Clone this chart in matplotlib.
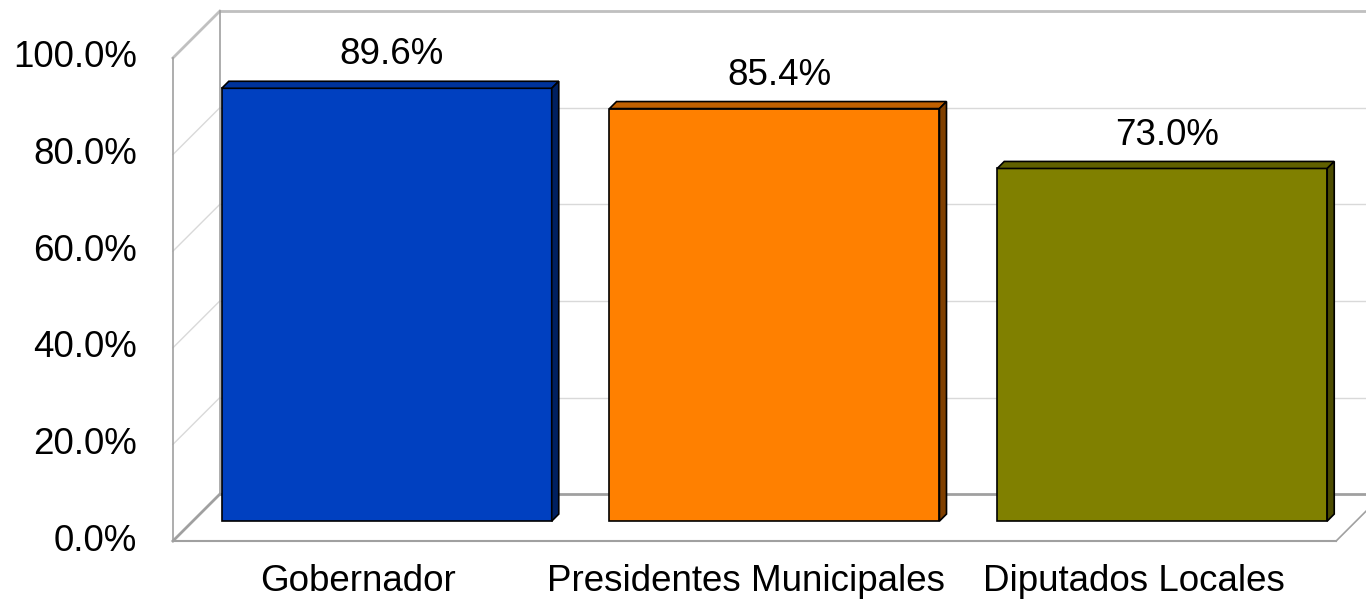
import numpy as np
import matplotlib.pyplot as plt
from matplotlib.patches import Polygon

plt.rcParams['font.family'] = ['Liberation Sans', 'DejaVu Sans']

categories = ['Gobernador', 'Presidentes Municipales', 'Diputados Locales']
values = [89.6, 85.4, 73.0]
tick_vals = [0, 20, 40, 60, 80, 100]
front_colors = ['#0040C0', '#FF8000', '#808000']
top_colors = ['#003399', '#C06000', '#606000']
side_colors = ['#002060', '#804000', '#4C4C00']

# oblique projection: full depth shift in data units
dX, dY = 0.121, 9.7
f1, f2 = 0.425, 0.575   # bar front / back depth fractions
w = 0.851

fig = plt.figure(figsize=(13.66, 6.01), dpi=100)
ax = fig.add_axes([0, 0, 1, 1])
ax.set_xlim(-0.946, 2.577)
ax.set_ylim(-12.42, 112.0)
ax.axis('off')

n = len(categories)
x0, x1 = -0.5, n - 0.5

# back wall gridlines and left wall gridlines
for v in tick_vals:
    col = '#d9d9d9' if v != 0 else '#a0a0a0'
    lw = 1.0 if v != 0 else 2.0
    ax.plot([x0 + dX, x1 + dX + 0.2], [v + dY, v + dY], color=col, lw=lw, zorder=1)
    ax.plot([x0, x0 + dX], [v, v + dY], color=col, lw=lw, zorder=1)
# top frame
ax.plot([x0 + dX, x1 + dX + 0.2], [100 + dY, 100 + dY], color='#c0c0c0', lw=2, zorder=1)
ax.plot([x0, x0 + dX], [100, 100 + dY], color='#c0c0c0', lw=2, zorder=1)
# wall edges
ax.plot([x0, x0], [0, 100], color='#a0a0a0', lw=1.2, zorder=1)
ax.plot([x0 + dX, x0 + dX], [dY, 100 + dY], color='#a0a0a0', lw=1.2, zorder=1)
# floor
ax.plot([x0, x1], [0, 0], color='#a0a0a0', lw=1.5, zorder=1)
ax.plot([x1, x1 + dX], [0, dY], color='#a0a0a0', lw=1.2, zorder=1)

# bars
xs = np.arange(n)
b = f1 * dY
ddx, ddy = (f2 - f1) * dX, (f2 - f1) * dY
ax.bar(xs + f1 * dX, values, width=w, bottom=b, color=front_colors,
       edgecolor='black', linewidth=1.2, zorder=3)
for i, v in enumerate(values):
    xl = xs[i] + f1 * dX - w / 2
    xr = xs[i] + f1 * dX + w / 2
    top = v + b
    ax.add_patch(Polygon([(xl, top), (xr, top), (xr + ddx, top + ddy), (xl + ddx, top + ddy)],
                         closed=True, facecolor=top_colors[i], edgecolor='black', lw=1.2, zorder=3))
    ax.add_patch(Polygon([(xr, b), (xr, top), (xr + ddx, top + ddy), (xr + ddx, b + ddy)],
                         closed=True, facecolor=side_colors[i], edgecolor='black', lw=1.2, zorder=3))
    ax.text(xs[i] + f1 * dX + 0.012, top + 6.9, f'{v:.1f}%', ha='center', va='center',
            fontsize=26.5, color='black', zorder=4)

# tick labels
for v in tick_vals:
    ax.text(x0 - 0.093, v, f'{v:.1f}%', ha='right', va='center', fontsize=26.5, color='black')

# category labels
for i, c in enumerate(categories):
    ax.text(xs[i] - 0.022, -8.3, c, ha='center', va='center', fontsize=26.5, color='black')

fig.savefig('out.png', dpi=100)
